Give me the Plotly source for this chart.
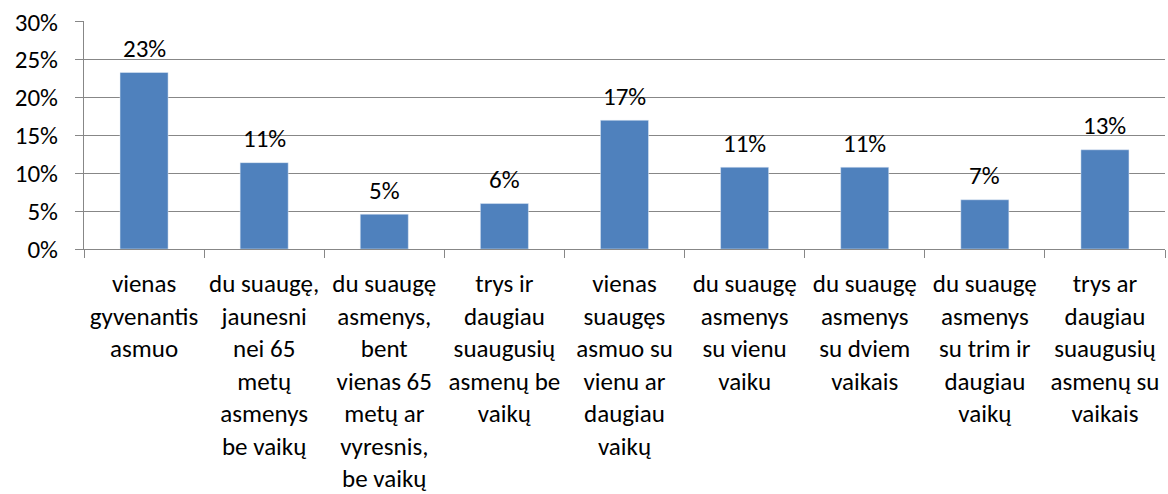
import plotly.graph_objects as go

categories = [
    "vienas<br>gyvenantis<br>asmuo",
    "du suaugę,<br>jaunesni<br>nei 65<br>metų<br>asmenys<br>be vaikų",
    "du suaugę<br>asmenys,<br>bent<br>vienas 65<br>metų ar<br>vyresnis,<br>be vaikų",
    "trys ir<br>daugiau<br>suaugusių<br>asmenų be<br>vaikų",
    "vienas<br>suaugęs<br>asmuo su<br>vienu ar<br>daugiau<br>vaikų",
    "du suaugę<br>asmenys<br>su vienu<br>vaiku",
    "du suaugę<br>asmenys<br>su dviem<br>vaikais",
    "du suaugę<br>asmenys<br>su trim ir<br>daugiau<br>vaikų",
    "trys ar<br>daugiau<br>suaugusių<br>asmenų su<br>vaikais",
]
values = [0.233, 0.114, 0.046, 0.060, 0.170, 0.108, 0.108, 0.065, 0.131]
value_labels = ["23%", "11%", "5%", "6%", "17%", "11%", "11%", "7%", "13%"]
y_tickvals = [0, 0.05, 0.10, 0.15, 0.20, 0.25, 0.30]

FONT = "Carlito, Calibri, Lato, sans-serif"
GRID = "#878787"
FS = 25

fig = go.Figure()
fig.add_trace(go.Bar(
    x=categories, y=values,
    marker=dict(color="#4F81BD"),
    width=0.4,
    hoverinfo="skip",
))

for c, v, t in zip(categories, values, value_labels):
    fig.add_annotation(x=c, y=v, text=t, showarrow=False,
                       yanchor="middle", yshift=24,
                       font=dict(family=FONT, size=FS, color="black"))

fig.update_layout(
    width=1168, height=494,
    margin=dict(l=84, r=3, t=21, b=245),
    paper_bgcolor="white", plot_bgcolor="white",
    showlegend=False,
    font=dict(family=FONT, size=FS, color="black"),
    bargap=0.6,
)
fig.update_xaxes(
    type="category", automargin=False,
    showline=True, linecolor=GRID, linewidth=1,
    ticks="outside", tickson="boundaries", ticklen=8, tickcolor=GRID,
    tickangle=0,
    tickfont=dict(family=FONT, size=FS, color="black"),
    ticklabelstandoff=12,
    showgrid=False,
)
fig.update_yaxes(
    range=[0, 0.301], automargin=False,
    tickvals=y_tickvals, tickformat=".0%",
    ticklabeloverflow="allow",
    showline=True, linecolor=GRID, linewidth=1,
    ticks="outside", ticklen=8, tickcolor=GRID,
    showgrid=True, gridcolor=GRID, gridwidth=1,
    zeroline=False,
    tickfont=dict(family=FONT, size=FS, color="black"),
    ticklabelstandoff=12,
)

fig.write_html("out.html",
               config={"displayModeBar": False},
               post_script="document.body.style.margin='0';document.body.style.overflow='hidden';")
